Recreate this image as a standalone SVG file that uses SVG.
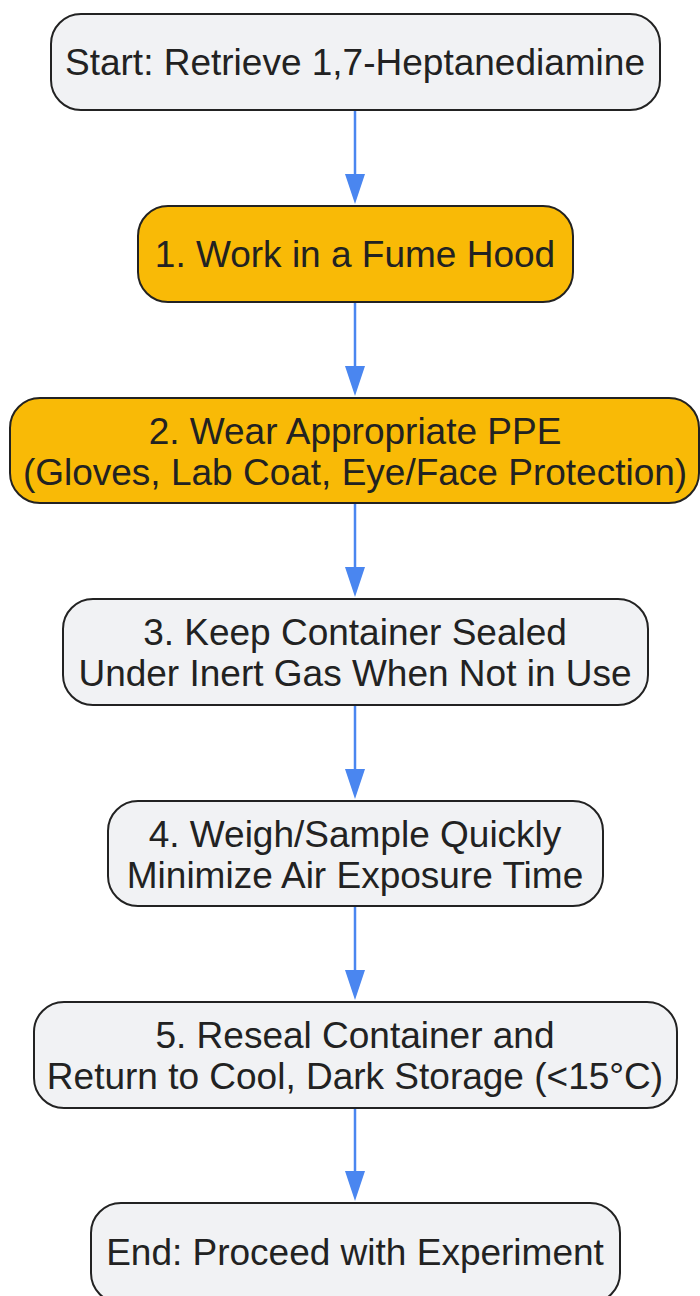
<svg xmlns="http://www.w3.org/2000/svg" width="700" height="1296" viewBox="0 0 700 1296">
<defs>
<style>
.n rect{stroke:#222;stroke-width:2}
.g rect{fill:#F1F2F4}
.o rect{fill:#F9BA06}
text{font-family:"Liberation Sans",Arial,sans-serif;font-size:37px;fill:#222;text-anchor:middle;dominant-baseline:central}
.e line{stroke:#4A86F0;stroke-width:2.5}
.e path{fill:#4A86F0}
</style>
</defs>
<rect width="700" height="1296" fill="#fff"/>
<g class="e" id="connectors">
<line x1="355" y1="110" x2="355" y2="174"/><path d="M345,174 L365,174 L355,204 Z"/>
<line x1="355" y1="302" x2="355" y2="366"/><path d="M345,366 L365,366 L355,396 Z"/>
<line x1="355" y1="503" x2="355" y2="567"/><path d="M345,567 L365,567 L355,597 Z"/>
<line x1="355" y1="705" x2="355" y2="769"/><path d="M345,769 L365,769 L355,799 Z"/>
<line x1="355" y1="906" x2="355" y2="970"/><path d="M345,970 L365,970 L355,1000 Z"/>
<line x1="355" y1="1108" x2="355" y2="1171"/><path d="M345,1171 L365,1171 L355,1201 Z"/>
</g>
<g id="start" class="n g"><rect x="51" y="14" width="609" height="96" rx="30"/><text x="355" y="62">Start: Retrieve 1,7-Heptanediamine</text></g>
<g id="n1" class="n o"><rect x="138" y="206" width="435" height="96" rx="30"/><text x="355" y="254">1. Work in a Fume Hood</text></g>
<g id="n2" class="n o"><rect x="10" y="398" width="689" height="105" rx="30"/><text x="355" y="431">2. Wear Appropriate PPE</text><text x="355" y="472">(Gloves, Lab Coat, Eye/Face Protection)</text></g>
<g id="n3" class="n g"><rect x="63" y="599" width="585" height="106" rx="30"/><text x="355" y="632">3. Keep Container Sealed</text><text x="355" y="673">Under Inert Gas When Not in Use</text></g>
<g id="n4" class="n g"><rect x="108" y="801" width="495" height="105" rx="30"/><text x="355" y="834">4. Weigh/Sample Quickly</text><text x="355" y="875">Minimize Air Exposure Time</text></g>
<g id="n5" class="n g"><rect x="34" y="1002" width="643" height="106" rx="30"/><text x="355" y="1035">5. Reseal Container and</text><text x="355" y="1076">Return to Cool, Dark Storage (&lt;15°C)</text></g>
<g id="end" class="n g"><rect x="91" y="1203" width="529" height="100" rx="30"/><text x="355" y="1252">End: Proceed with Experiment</text></g>
</svg>
